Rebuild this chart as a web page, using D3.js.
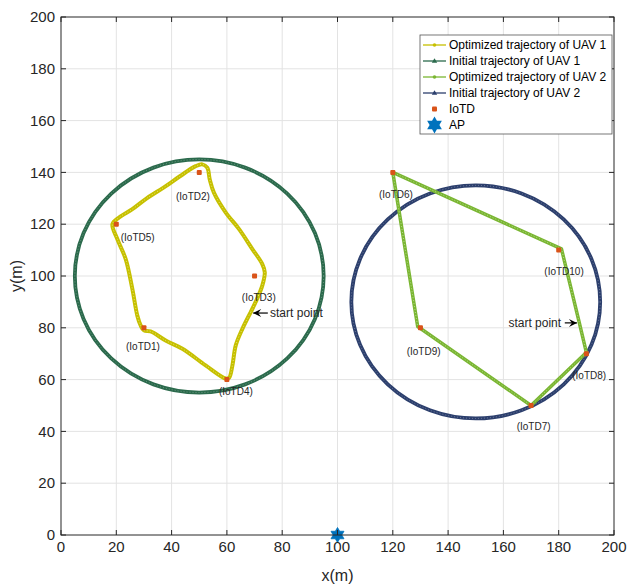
<!DOCTYPE html>
<html>
<head>
<meta charset="utf-8">
<script src="https://cdn.jsdelivr.net/npm/d3@7"></script>
<style>
  body { margin: 0; background: #fff; }
  text { font-family: "Liberation Sans", Arial, Helvetica, sans-serif; }
</style>
</head>
<body>
<div id="chart"></div>
<script>
// IoT devices
const iotNames = ["IoTD1", "IoTD2", "IoTD3", "IoTD4", "IoTD5", "IoTD6", "IoTD7", "IoTD8", "IoTD9", "IoTD10"];
const iotX = [30, 50, 70, 60, 20, 120, 170, 190, 130, 180];
const iotY = [80, 140, 100, 60, 120, 140, 50, 70, 80, 110];
// label anchors (data coords, left edge / middle)
const labelX = [23.5, 41.6, 65.4, 57.1, 21.6, 115, 164.8, 184.9, 125, 174.8];
const labelY = [72.7, 130.6, 91.6, 55.3, 114.9, 131.3, 41.8, 61.4, 71, 101.7];

// initial circular trajectories: center x, center y, radius
const initCx = [50, 150];
const initCy = [100, 90];
const initR = [45, 45];

// optimized trajectory of UAV 1 (traced)
const opt1 = [[68.6,86],[70.4,90],[72.8,96.3],[73.7,101.4],[72.8,104.6],[69.2,110.4],[64.4,118.1],
  [59.6,124.5],[55.3,132.2],[53.8,137.3],[52.9,141.8],[51.1,143.1],[48.7,142.4],[43,138.5],
  [37.9,134.7],[31,130],[25.8,125.8],[21,122.6],[18.6,120],[20.4,114.2],[23.4,106.5],[25.8,95],
  [27.6,84.7],[28.8,80.9],[30,79],[32.4,78.6],[38,75],[43.9,71.9],[52.3,65.5],[59.6,60.4],
  [60.8,60.7],[62,65.5],[63.2,73.2],[65.6,79.6],[68.6,86]];
// optimized trajectory of UAV 2
const opt2 = [[187.4,82.2],[181,110.5],[120,140],[129,80.5],[170,50],[190,70.5],[187.4,82.2]];

// AP
const apX = [100];
const apY = [0];

const ticks = [0, 20, 40, 60, 80, 100, 120, 140, 160, 180, 200];

const legendNames = ["Optimized trajectory of UAV 1", "Initial trajectory of UAV 1",
  "Optimized trajectory of UAV 2", "Initial trajectory of UAV 2", "IoTD", "AP"];

const W = 627, H = 584;
const margin = { top: 17, right: 13, bottom: 49, left: 61 };
const width = W - margin.left - margin.right;
const height = H - margin.top - margin.bottom;

const c1 = "#c6c000", c1i = "#2b6a4c", c2 = "#7ab632", c2i = "#2c3f6d";
const cIot = "#d95319", cAp = "#0072bd", axc = "#262626";

const svg = d3.select("#chart").append("svg")
  .attr("width", W).attr("height", H);
const g = svg.append("g").attr("transform", `translate(${margin.left},${margin.top})`);

const x = d3.scaleLinear().domain([0, 200]).range([0, width]);
const y = d3.scaleLinear().domain([0, 200]).range([height, 0]);

// grid
g.append("g").selectAll("line").data(ticks.slice(1, -1)).enter().append("line")
  .attr("x1", d => x(d)).attr("x2", d => x(d)).attr("y1", 0).attr("y2", height)
  .attr("stroke", "#e3e3e3").attr("stroke-width", 1);
g.append("g").selectAll("line").data(ticks.slice(1, -1)).enter().append("line")
  .attr("y1", d => y(d)).attr("y2", d => y(d)).attr("x1", 0).attr("x2", width)
  .attr("stroke", "#e3e3e3").attr("stroke-width", 1);

// initial trajectories
const initColors = [c1i, c2i];
initCx.forEach((cx, i) => {
  g.append("ellipse")
    .attr("cx", x(cx)).attr("cy", y(initCy[i]))
    .attr("rx", x(cx + initR[i]) - x(cx)).attr("ry", y(initCy[i] - initR[i]) - y(initCy[i]))
    .attr("fill", "none").attr("stroke", initColors[i]).attr("stroke-width", 3.8);
  g.append("ellipse")
    .attr("cx", x(cx)).attr("cy", y(initCy[i]))
    .attr("rx", x(cx + initR[i]) - x(cx)).attr("ry", y(initCy[i] - initR[i]) - y(initCy[i]))
    .attr("fill", "none").attr("stroke", "#fff").attr("stroke-opacity", 0.3)
    .attr("stroke-width", 1).attr("stroke-dasharray", "1 2");
});

// optimized trajectories
const line1 = d3.line().x(d => x(d[0])).y(d => y(d[1])).curve(d3.curveCatmullRom.alpha(0.5));
const line2 = d3.line().x(d => x(d[0])).y(d => y(d[1]));
g.append("path").attr("d", line1(opt1)).attr("fill", "none")
  .attr("stroke", c1).attr("stroke-width", 4).attr("stroke-linejoin", "round");
g.append("path").attr("d", line1(opt1)).attr("fill", "none")
  .attr("stroke", "#e8e470").attr("stroke-width", 1).attr("stroke-dasharray", "1 2");
g.append("path").attr("d", line2(opt2)).attr("fill", "none")
  .attr("stroke", c2).attr("stroke-width", 3.5).attr("stroke-linejoin", "round");
g.append("path").attr("d", line2(opt2)).attr("fill", "none")
  .attr("stroke", "#b5d98a").attr("stroke-width", 1).attr("stroke-dasharray", "1 2");

// IoTDs
g.selectAll(".iot").data(iotX).enter().append("rect")
  .attr("x", (d, i) => x(d) - 2.5).attr("y", (d, i) => y(iotY[i]) - 2.5)
  .attr("width", 5).attr("height", 5).attr("rx", 1).attr("fill", cIot);

g.selectAll(".lbl").data(iotNames).enter().append("text")
  .attr("x", (d, i) => x(labelX[i])).attr("y", (d, i) => y(labelY[i]))
  .attr("dy", "0.35em").style("font-size", "10px").attr("fill", axc)
  .text(d => `(${d})`);

// start point annotations
function arrow(tipX, tailX, yy) {
  const dir = Math.sign(tailX - tipX);
  const tx = x(tipX), ty = y(yy), lx = x(tailX);
  g.append("line").attr("x1", tx).attr("x2", lx).attr("y1", ty).attr("y2", ty)
    .attr("stroke", "#000").attr("stroke-width", 1.2);
  g.append("path")
    .attr("d", `M${tx},${ty} L${tx + dir * 8},${ty - 4} L${tx + dir * 5},${ty} L${tx + dir * 8},${ty + 4} Z`)
    .attr("fill", "#000");
}
arrow(69.5, 74.8, 85.7);
g.append("text").attr("x", x(75.6)).attr("y", y(85.7)).attr("dy", "0.35em")
  .style("font-size", "12px").attr("fill", axc).text("start point");
arrow(186.6, 182.2, 81.9);
g.append("text").attr("x", x(161.8)).attr("y", y(81.9)).attr("dy", "0.35em")
  .style("font-size", "12px").attr("fill", axc).text("start point");

// hexagram
function hexagram(R) {
  const pts = [];
  for (let k = 0; k < 12; k++) {
    const a = -Math.PI / 2 + k * Math.PI / 6;
    const r = k % 2 === 0 ? R : R / Math.sqrt(3);
    pts.push([r * Math.cos(a), r * Math.sin(a)]);
  }
  return "M" + pts.map(p => p.join(",")).join("L") + "Z";
}
g.selectAll(".ap").data(apX).enter().append("path")
  .attr("d", hexagram(7.5))
  .attr("transform", (d, i) => `translate(${x(d)},${y(apY[i])})`)
  .attr("fill", cAp).attr("stroke", cAp).attr("stroke-width", 0.8);

// axes box
const ax = g.append("g");
ax.append("rect").attr("width", width).attr("height", height)
  .attr("fill", "none").attr("stroke", axc).attr("stroke-width", 1);
ticks.forEach(t => {
  ax.append("line").attr("x1", x(t)).attr("x2", x(t)).attr("y1", height).attr("y2", height - 5).attr("stroke", axc);
  ax.append("line").attr("x1", x(t)).attr("x2", x(t)).attr("y1", 0).attr("y2", 5).attr("stroke", axc);
  ax.append("line").attr("y1", y(t)).attr("y2", y(t)).attr("x1", 0).attr("x2", 5).attr("stroke", axc);
  ax.append("line").attr("y1", y(t)).attr("y2", y(t)).attr("x1", width).attr("x2", width - 5).attr("stroke", axc);
});
ax.selectAll(".xt").data(ticks).enter().append("text")
  .attr("x", d => x(d)).attr("y", height + 17).attr("text-anchor", "middle")
  .style("font-size", "15px").attr("fill", axc).text(d => d);
ax.selectAll(".yt").data(ticks).enter().append("text")
  .attr("x", -6).attr("y", d => y(d)).attr("dy", "0.35em").attr("text-anchor", "end")
  .style("font-size", "15px").attr("fill", axc).text(d => d);

svg.append("text").attr("x", margin.left + width / 2).attr("y", 581)
  .attr("text-anchor", "middle").style("font-size", "16px").attr("fill", axc).text("x(m)");
svg.append("text").attr("transform", `translate(22,${margin.top + height / 2}) rotate(-90)`)
  .attr("text-anchor", "middle").style("font-size", "16px").attr("fill", axc).text("y(m)");

// legend
const lg = svg.append("g").attr("transform", "translate(420,35)");
lg.append("rect").attr("width", 192).attr("height", 99)
  .attr("fill", "#fff").attr("stroke", "#555").attr("stroke-width", 0.8);
const legendColors = [c1, c1i, c2, c2i, cIot, cAp];
legendNames.forEach((name, i) => {
  const yy = 10 + i * 16;
  const row = lg.append("g").attr("transform", `translate(0,${yy})`);
  if (i < 4) {
    row.append("line").attr("x1", 3).attr("x2", 26).attr("y1", 0).attr("y2", 0)
      .attr("stroke", legendColors[i]).attr("stroke-width", 1.3);
    if (i % 2 === 0) {
      row.append("circle").attr("cx", 14.5).attr("cy", 0).attr("r", 1.8).attr("fill", legendColors[i]);
    } else {
      row.append("path").attr("d", "M14.5,-2.8L17.2,1.8L11.8,1.8Z").attr("fill", legendColors[i]);
    }
  } else if (i === 4) {
    row.append("rect").attr("x", 12).attr("y", -2.5).attr("width", 5).attr("height", 5).attr("rx", 1).attr("fill", cIot);
  } else {
    row.append("path").attr("d", hexagram(8.5)).attr("transform", "translate(14.5,0)").attr("fill", cAp);
  }
  row.append("text").attr("x", 29).attr("y", 0).attr("dy", "0.35em")
    .style("font-size", "12px").attr("fill", "#000").text(name);
});
</script>
</body>
</html>
